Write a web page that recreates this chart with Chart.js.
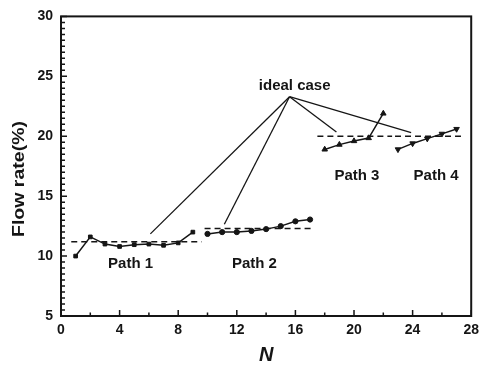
<!DOCTYPE html>
<html>
<head>
<meta charset="utf-8">
<script src="https://cdn.jsdelivr.net/npm/chart.js@4"></script>
<style>
  body { margin: 0; background: #fff; }
</style>
</head>
<body>
<canvas id="flow-chart" width="485" height="367"></canvas>
<script>
var path1N = [1, 2, 3, 4, 5, 6, 7, 8, 9];
var path1Rate = [10.0, 11.6, 11.0, 10.8, 10.95, 11.0, 10.9, 11.1, 12.0];
var path2N = [10, 11, 12, 13, 14, 15, 16, 17];
var path2Rate = [11.85, 12.0, 12.0, 12.1, 12.25, 12.5, 12.9, 13.05];
var path3N = [18, 19, 20, 21, 22];
var path3Rate = [18.9, 19.3, 19.6, 19.85, 21.9];
var path4N = [23, 24, 25, 26, 27];
var path4Rate = [18.9, 19.4, 19.8, 20.2, 20.6];

// ideal (dashed) level of each path: start N, end N, rate
var idealFrom = [0.7, 9.8, 17.5, 22.8];
var idealTo = [9.6, 17.2, 22.6, 27.3];
var idealRate = [11.2, 12.3, 20, 20];

// "ideal case" callout lines, from one point to four targets
var calloutN = 15.6, calloutRate = 23.3;
var calloutToN = [6.1, 11.15, 18.8, 23.9];
var calloutToRate = [11.85, 12.65, 20.35, 20.3];

var labelText = ["ideal case", "Path 1", "Path 2", "Path 3", "Path 4"];
var labelN = [15.95, 4.75, 13.2, 20.2, 25.6];
var labelRate = [24.2, 9.37, 9.37, 16.7, 16.7];

var ink = "#151515";

function toPoints(xs, ys) {
    return xs.map(function (x, i) { return { x: x, y: ys[i] }; });
}

var datasets = [];
var styles = [
    { n: path1N, r: path1Rate, style: "rect", rot: 0, rad: 2.6 },
    { n: path2N, r: path2Rate, style: "circle", rot: 0, rad: 2.6 },
    { n: path3N, r: path3Rate, style: "triangle", rot: 0, rad: 3.2 },
    { n: path4N, r: path4Rate, style: "triangle", rot: 180, rad: 3.2 }
];
styles.forEach(function (s) {
    datasets.push({
        data: toPoints(s.n, s.r),
        borderColor: ink,
        backgroundColor: ink,
        borderWidth: 1.5,
        pointBorderWidth: 1,
        pointStyle: s.style,
        rotation: s.rot,
        pointRadius: s.rad,
        tension: 0
    });
});
idealRate.forEach(function (r, i) {
    datasets.push({
        data: [{ x: idealFrom[i], y: r }, { x: idealTo[i], y: r }],
        borderColor: ink,
        borderWidth: 1.5,
        borderDash: [6, 4],
        pointRadius: 0
    });
});
calloutToN.forEach(function (n, i) {
    datasets.push({
        data: [{ x: calloutN, y: calloutRate }, { x: n, y: calloutToRate[i] }],
        borderColor: ink,
        borderWidth: 1.3,
        pointRadius: 0
    });
});

// frame, inward ticks, text labels and axis titles
var decorPlugin = {
    id: "decor",
    afterDraw: function (chart) {
        var ctx = chart.ctx, a = chart.chartArea;
        var xs = chart.scales.x, ys = chart.scales.y;
        ctx.save();
        ctx.strokeStyle = ink;
        ctx.lineWidth = 2;
        ctx.strokeRect(a.left, a.top, a.right - a.left, a.bottom - a.top);

        ctx.lineWidth = 1.5;
        ctx.beginPath();
        for (var v = 0; v <= 28; v += 2) {
            var px = xs.getPixelForValue(v);
            var len = v % 4 === 0 ? 6 : 3.5;
            ctx.moveTo(px, a.bottom);
            ctx.lineTo(px, a.bottom - len);
        }
        for (var k = 10; k <= 60; k++) {
            var py = ys.getPixelForValue(k / 2);
            var l2 = k % 10 === 0 ? 6 : 4;
            ctx.moveTo(a.left, py);
            ctx.lineTo(a.left + l2, py);
        }
        ctx.stroke();

        ctx.fillStyle = ink;
        ctx.textAlign = "center";
        ctx.textBaseline = "middle";
        labelText.forEach(function (t, i) {
            ctx.font = "bold 15px 'Liberation Sans'";
            ctx.fillText(t, xs.getPixelForValue(labelN[i]), ys.getPixelForValue(labelRate[i]));
        });

        ctx.font = "bold italic 20px 'Liberation Sans'";
        ctx.fillText("N", (a.left + a.right) / 2, 355);

        ctx.translate(20, 179);
        ctx.rotate(-Math.PI / 2);
        ctx.font = "bold 16px 'Liberation Sans'";
        var w = ctx.measureText("Flow rate(%)").width;
        ctx.scale(116 / w, 1);
        ctx.fillText("Flow rate(%)", 0, 0);
        ctx.restore();
    }
};

var config = {
    type: "line",
    data: { datasets: datasets },
    plugins: [decorPlugin],
    options: {
        responsive: false,
        animation: false,
        layout: { padding: { left: 0, right: 8, top: 10, bottom: 0 } },
        plugins: {
            legend: { display: false },
            tooltip: { enabled: false }
        },
        scales: {
            x: {
                type: "linear",
                min: 0,
                max: 28,
                afterFit: function (scale) { scale.height = 51; },
                grid: { display: false, drawTicks: false },
                border: { display: false },
                ticks: {
                    stepSize: 4,
                    padding: 6,
                    color: ink,
                    font: { family: "Liberation Sans", size: 14, weight: "bold" }
                }
            },
            y: {
                min: 5,
                max: 30,
                afterFit: function (scale) { scale.width = 61; },
                grid: { display: false, drawTicks: false },
                border: { display: false },
                ticks: {
                    stepSize: 5,
                    padding: 8,
                    color: ink,
                    font: { family: "Liberation Sans", size: 14, weight: "bold" }
                }
            }
        }
    }
};

var flowChart = new Chart(document.getElementById("flow-chart"), config);
</script>
</body>
</html>
